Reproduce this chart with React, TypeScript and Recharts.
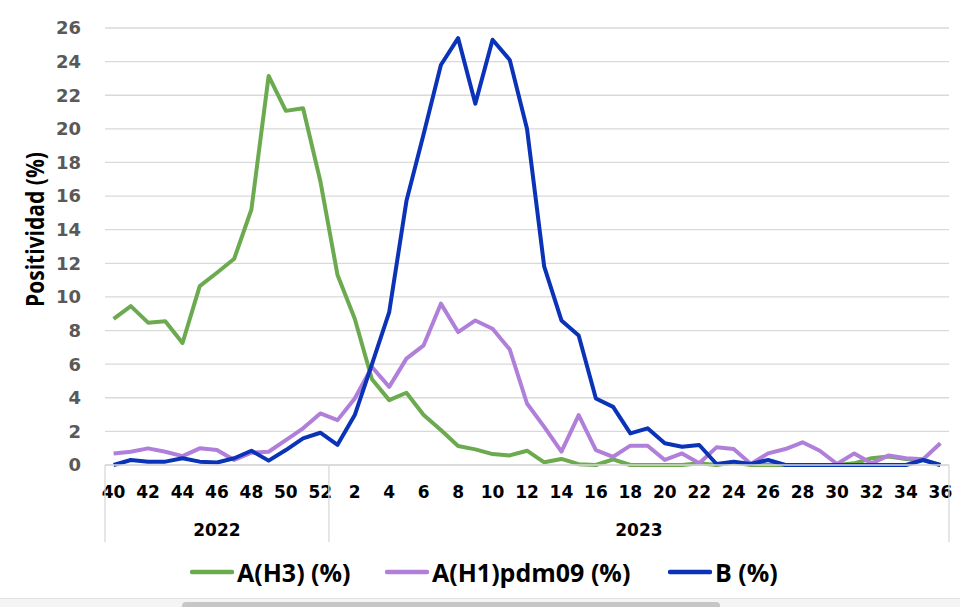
import React from 'react';
import { LineChart, Line, XAxis, YAxis, CartesianGrid } from 'recharts';

// ---- data ----
const weeks: number[] = [
  40, 41, 42, 43, 44, 45, 46, 47, 48, 49, 50, 51, 52,
  1, 2, 3, 4, 5, 6, 7, 8, 9, 10, 11, 12, 13, 14, 15, 16, 17, 18, 19, 20,
  21, 22, 23, 24, 25, 26, 27, 28, 29, 30, 31, 32, 33, 34, 35, 36,
];

const yearGroups = [
  { label: '2022', count: 13 },
  { label: '2023', count: 36 },
];

const h3Values: number[] = [
  8.7, 9.45, 8.47, 8.55, 7.26, 10.64, 11.44, 12.27, 15.2, 23.15, 21.07, 21.23, 16.9,
  11.3, 8.7, 5.1, 3.86, 4.3, 2.97, 2.08, 1.13, 0.93, 0.65, 0.57, 0.85, 0.16, 0.36, 0.05, 0,
  0.34, 0, 0, 0, 0, 0.1, 0, 0.15, 0, 0, 0, 0, 0, 0, 0.1, 0.4, 0.5, 0.35, 0.3, 0,
];

const h1Values: number[] = [
  0.69, 0.79, 0.99, 0.79, 0.53, 0.99, 0.89, 0.3, 0.73, 0.79, 1.48, 2.18, 3.07,
  2.67, 3.96, 5.83, 4.65, 6.33, 7.12, 9.6, 7.91, 8.6, 8.11, 6.87, 3.66, 2.27, 0.79, 2.97, 0.89,
  0.49, 1.15, 1.15, 0.3, 0.69, 0.1, 1.05, 0.95, 0.06, 0.69, 0.95, 1.35, 0.85, 0.06, 0.69, 0.1,
  0.57, 0.4, 0.34, 1.29,
];

const bValues: number[] = [
  0, 0.3, 0.2, 0.2, 0.4, 0.2, 0.15, 0.4, 0.85, 0.26, 0.89, 1.58, 1.92,
  1.2, 2.97, 6.0, 9.1, 15.7, 19.7, 23.8, 25.4, 21.5, 25.3, 24.1, 20.0, 11.8, 8.6, 7.7, 3.96,
  3.46, 1.88, 2.18, 1.29, 1.09, 1.19, 0.06, 0.2, 0.06, 0.3, 0, 0, 0, 0, 0, 0, 0, 0, 0.3, 0,
];

const yTicks: number[] = [0, 2, 4, 6, 8, 10, 12, 14, 16, 18, 20, 22, 24, 26];

const series = [
  { key: 'h3', name: 'A(H3) (%)', color: '#6BAA4E' },
  { key: 'h1', name: 'A(H1)pdm09 (%)', color: '#B07FD9' },
  { key: 'b', name: 'B (%)', color: '#0A33B8' },
];

const yTitle = 'Positividad (%)';

const data = weeks.map((w, i) => ({
  idx: i,
  week: String(w),
  h3: h3Values[i],
  h1: h1Values[i],
  b: bValues[i],
}));

// group boundaries / centers in index units
const N = weeks.length;
const boundaries: number[] = [-0.5];
const centers: { pos: number; label: string }[] = [];
{
  let start = -0.5;
  yearGroups.forEach((g) => {
    centers.push({ pos: start + g.count / 2, label: g.label });
    start += g.count;
    boundaries.push(start);
  });
}
const yearTicks = [...boundaries, ...centers.map((c) => c.pos)].sort((a, b) => a - b);

// ---- layout ----
const W = 960;
const H = 607;
const AXIS_FONT = "'DejaVu Sans', Verdana, sans-serif";
const LEGEND_FONT = "'Open Sans', 'Noto Sans', sans-serif";
const WEEK_AXIS_H = 40;
const GRID = '#d9d9d9';

const YearTick = (props: any) => {
  const { x, y, payload } = props;
  const v = payload.value;
  const c = centers.find((cc) => Math.abs(cc.pos - v) < 1e-6);
  if (c) {
    return (
      <text
        x={x}
        y={y + 31}
        textAnchor="middle"
        fill="#000"
        fontFamily={AXIS_FONT}
        fontWeight={700}
        fontSize={17}
      >
        {c.label}
      </text>
    );
  }
  return (
    <line x1={x} x2={x} y1={y - WEEK_AXIS_H} y2={y + 37} stroke={GRID} strokeWidth={1.3} />
  );
};

const legendLefts = [190, 385, 668];

export default function App() {
  return (
    <div style={{ position: 'absolute', left: 0, top: 0, width: W, height: H, background: '#fff', overflow: 'hidden' }}>
      <LineChart
        width={W}
        height={H}
        data={data}
        margin={{ top: 28, right: 11, left: 0, bottom: 0 }}
      >
        <CartesianGrid vertical={false} stroke={GRID} strokeWidth={1.3} />
        <XAxis
          dataKey="week"
          interval={1}
          padding={{ left: 844 / N / 2, right: 844 / N / 2 }}
          tickLine={false}
          axisLine={{ stroke: GRID, strokeWidth: 1.3 }}
          tickSize={0}
          tickMargin={21}
          height={WEEK_AXIS_H}
          tick={{ fill: '#000', fontSize: 17, fontWeight: 700, fontFamily: AXIS_FONT }}
        />
        <XAxis
          xAxisId="year"
          dataKey="idx"
          type="number"
          domain={[-0.5, N - 0.5]}
          allowDataOverflow
          ticks={yearTicks}
          interval={0}
          tickLine={false}
          axisLine={false}
          tickSize={0}
          tickMargin={0}
          height={H - 28 - 437 - WEEK_AXIS_H}
          tick={<YearTick />}
        />
        <YAxis
          domain={[0, 26]}
          ticks={yTicks}
          interval={0}
          width={105}
          tickLine={false}
          axisLine={false}
          tickSize={0}
          tickMargin={24}
          tick={{ fill: '#595959', fontSize: 18, fontWeight: 700, fontFamily: AXIS_FONT }}
        />
        {series.map((s) => (
          <Line
            key={s.key}
            type="linear"
            dataKey={s.key}
            name={s.name}
            stroke={s.color}
            strokeWidth={4}
            strokeLinejoin="round"
            dot={false}
            activeDot={false}
            isAnimationActive={false}
          />
        ))}
      </LineChart>

      {/* Y axis title */}
      <svg width={W} height={H} style={{ position: 'absolute', left: 0, top: 0, pointerEvents: 'none' }}>
        <text
          x={34}
          y={229.5}
          transform="rotate(-90 34 229.5)"
          textAnchor="middle"
          dominantBaseline="central"
          fontFamily={LEGEND_FONT}
          fontWeight={700}
          fontSize={25}
          fill="#000"
          textLength={155}
          lengthAdjust="spacingAndGlyphs"
        >
          {yTitle}
        </text>
      </svg>

      {/* Legend */}
      {series.map((s, i) => (
        <div
          key={s.key}
          style={{
            position: 'absolute',
            left: legendLefts[i],
            top: 555,
            height: 34,
            display: 'flex',
            alignItems: 'center',
            fontFamily: LEGEND_FONT,
            fontWeight: 700,
            fontSize: 25,
            color: '#000',
            whiteSpace: 'nowrap',
          }}
        >
          <svg width={44} height={10} style={{ marginRight: 3 }}>
            <line x1={2} x2={42} y1={5} y2={5} stroke={s.color} strokeWidth={4.5} strokeLinecap="round" />
          </svg>
          <span>{s.name}</span>
        </div>
      ))}

      {/* bottom scrollbar strip */}
      <div style={{ position: 'absolute', left: 0, top: 598, width: W, height: 9, background: '#f4f4f4', borderTop: '1px solid #e2e2e2' }} />
      <div style={{ position: 'absolute', left: 182, top: 602, width: 538, height: 8, background: '#c6c6c6', borderRadius: 4 }} />
    </div>
  );
}
